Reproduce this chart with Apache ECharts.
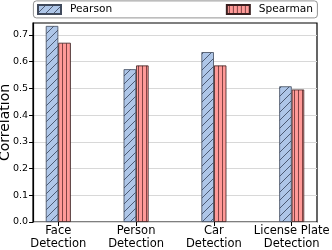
<!DOCTYPE html>
<html><head><meta charset="utf-8">
<script src="https://cdn.jsdelivr.net/npm/echarts@6/dist/echarts.min.js"></script>
<style>html,body{margin:0;padding:0;background:#fff}#c{width:332px;height:250px}</style>
</head><body><div id="c"></div>
<script>
const categories = ['Face\nDetection', 'Person\nDetection', 'Car\nDetection', 'License Plate\nDetection'];
const pearson = [0.734, 0.572, 0.636, 0.508];
const spearman = [0.671, 0.586, 0.586, 0.496];
const yTicks = [0, 0.1, 0.2, 0.3, 0.4, 0.5, 0.6, 0.7];
const seriesNames = ['Pearson', 'Spearman'];

function diagPattern(bg, line) {
  const s = 8, c = document.createElement('canvas');
  c.width = s; c.height = s;
  const g = c.getContext('2d');
  g.fillStyle = bg; g.fillRect(0, 0, s, s);
  g.strokeStyle = line; g.lineWidth = 0.8;
  g.beginPath();
  g.moveTo(-1, s + 1); g.lineTo(s + 1, -1);
  g.moveTo(-1, 1); g.lineTo(1, -1);
  g.moveTo(s - 1, s + 1); g.lineTo(s + 1, s - 1);
  g.stroke();
  return c;
}
function vertPattern(bg, line) {
  const w = 4, h = 4, c = document.createElement('canvas');
  c.width = w; c.height = h;
  const g = c.getContext('2d');
  g.fillStyle = bg; g.fillRect(0, 0, w, h);
  g.fillStyle = line; g.fillRect(2, 0, 0.8, h);
  return c;
}
const blueFill = { image: diagPattern('#aec6e8', 'rgba(30,40,60,0.85)'), repeat: 'repeat' };
const redFill = { image: vertPattern('#ff9a98', 'rgba(60,20,20,0.8)'), repeat: 'repeat' };

const chart = echarts.init(document.getElementById('c'), null, { renderer: 'canvas' });
const font = 'DejaVu Sans';
const legendCommon = {
  top: 4, padding: 0, itemWidth: 23, itemHeight: 9,
  textStyle: { fontFamily: font, fontSize: 10.6, color: '#000', padding: [0, 0, 0, 4] }
};
chart.setOption({
  animation: false,
  textStyle: { fontFamily: font },
  graphic: [{
    type: 'rect', left: 33, top: 0.5, z: -1,
    shape: { width: 284, height: 17, r: 3 },
    style: { fill: '#fff', stroke: '#777', lineWidth: 0.8 }
  }],
  grid: { left: 33, right: 15, top: 23, bottom: 28, containLabel: false, outerBoundsMode: 'none',
          show: true, borderColor: '#000', borderWidth: 1.2, backgroundColor: 'transparent' },
  legend: [
    Object.assign({ left: 37, data: [{ name: seriesNames[0], icon: 'rect' }] }, legendCommon),
    Object.assign({ right: 19, data: [{ name: seriesNames[1], icon: 'rect' }] }, legendCommon)
  ],
  xAxis: {
    type: 'value', min: -0.325, max: 3.325,
    splitLine: { show: false },
    axisLine: { show: false },
    axisTick: { show: true, customValues: [0, 1, 2, 3], length: 4, lineStyle: { color: '#000', width: 1 } },
    axisLabel: {
      customValues: [0, 1, 2, 3], margin: 2,
      formatter: v => categories[Math.round(v)],
      fontFamily: font, fontSize: 11.5, lineHeight: 13.5, color: '#000'
    }
  },
  yAxis: {
    type: 'value', min: 0, max: 0.745, interval: 0.1,
    name: 'Correlation', nameLocation: 'middle', nameGap: 21, nameMoveOverlap: false,
    nameTextStyle: { fontFamily: font, fontSize: 14, color: '#000' },
    axisLine: { show: true, onZero: false, lineStyle: { color: '#000', width: 1.2 } },
    axisTick: { show: true, customValues: yTicks, length: 4, lineStyle: { color: '#000', width: 1 } },
    axisLabel: { customValues: yTicks, formatter: v => v.toFixed(1), fontFamily: font, fontSize: 9.5, color: '#000', margin: 5 },
    splitLine: { show: true, lineStyle: { color: '#d8d8d8', width: 1 } }
  },
  series: [
    {
      name: 'Pearson', type: 'bar', barWidth: 12.5, barGap: '0%',
      data: pearson.map((v, i) => [i, v]),
      itemStyle: { color: blueFill, borderColor: '#404a5c', borderWidth: 0.8 }
    },
    {
      name: 'Spearman', type: 'bar', barWidth: 12.5, barGap: '0%',
      data: spearman.map((v, i) => [i, v]),
      itemStyle: { color: redFill, borderColor: '#3a2020', borderWidth: 0.8 }
    }
  ]
});
</script></body></html>
